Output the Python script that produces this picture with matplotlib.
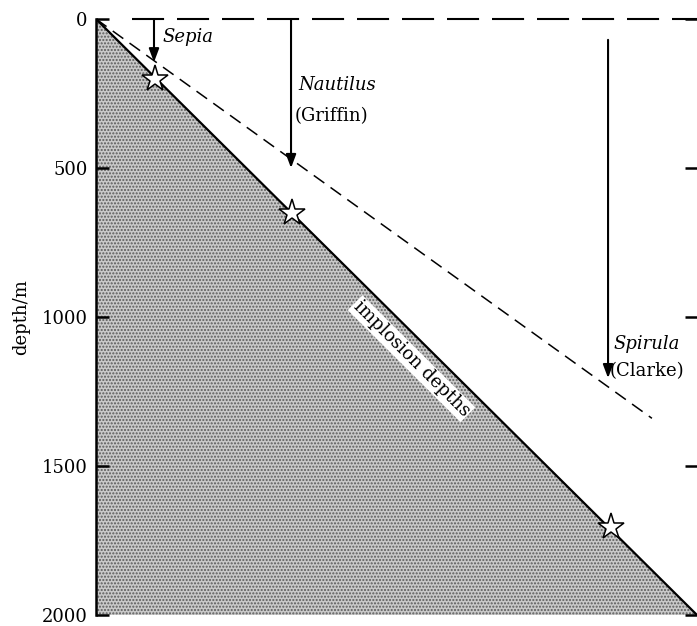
import matplotlib
matplotlib.use("Agg")
import matplotlib.pyplot as plt
import numpy as np

plt.rcParams['font.family'] = ['DejaVu Serif']

# Data (depth in m; horizontal position arbitrary, same units as depth along the implosion line)
implosion_x = [0, 2000]
implosion_depth = [0, 2000]
dashed_x = [0, 1850]
dashed_depth = [0, 1340]
surface_x = [120, 2000]
surface_depth = [0, 0]
star_x = [195, 652, 1715]
star_depth = [200, 650, 1705]
species = ["Sepia", "Nautilus", "Spirula"]
sources = ["", "(Griffin)", "(Clarke)"]
arrow_x = [193, 649, 1704]
arrow_start = [0, 0, 70]
arrow_end = [145, 500, 1205]
label_x = [220, 672, 1722]
label_depth = [62, 220, 1090]
source_depth = [None, 325, 1183]
yticks = [0, 500, 1000, 1500, 2000]

fig = plt.figure(figsize=(6.97, 6.26), dpi=100)
ax = fig.add_axes([96/697, 11/626, 601/697, 596/626])
ax.set_xlim(0, 2000)
ax.set_ylim(2000, 0)

plt.rcParams['hatch.linewidth'] = 1.0
# shaded region
ax.fill_between(implosion_x, implosion_depth, 2000, facecolor='#c9c9c9',
                hatch='.....', edgecolor='#5a5a5a', linewidth=0, zorder=1)
ax.plot(implosion_x, implosion_depth, color='black', lw=1.6, zorder=3)
ax.plot(dashed_x, dashed_depth, color='black', lw=1.1, ls=(0, (8.5, 5)), zorder=3)
ax.plot(surface_x, surface_depth, color='black', lw=1.5, ls=(0, (15.4, 6.2)),
        zorder=3, clip_on=False)

ax.plot(star_x, star_depth, ls='none', marker='*', markersize=20,
        markerfacecolor='white', markeredgecolor='black', markeredgewidth=1.1, zorder=5)

for xa, y0, y1 in zip(arrow_x, arrow_start, arrow_end):
    ax.annotate('', xy=(xa, y1), xytext=(xa, y0),
                arrowprops=dict(arrowstyle='-|>,head_length=0.8,head_width=0.3',
                                color='black', lw=1.5, shrinkA=0, shrinkB=0), zorder=4)

for name, src, lx, ld, sd in zip(species, sources, label_x, label_depth, source_depth):
    ax.text(lx, ld, name, fontsize=13, style='italic', ha='left', va='center')
    if sd is not None:
        ax.text(lx - 12, sd, src, fontsize=13, ha='left', va='center')

ax.text(1050, 1140, 'implosion depths', fontsize=13, rotation=-44.8,
        ha='center', va='center', rotation_mode='anchor',
        bbox=dict(facecolor='white', edgecolor='none', pad=1.0), zorder=4)

for s in ['top', 'right', 'bottom']:
    ax.spines[s].set_visible(False)
ax.spines['left'].set_linewidth(1.8)
ax.set_xticks([])
ax.set_yticks(yticks)
ax.tick_params(axis='y', direction='in', length=9, width=1.8, labelsize=13,
               right=True, pad=6)
ax.set_ylabel('depth/m', fontsize=13, labelpad=8)

fig.savefig('out.png', dpi=100)
